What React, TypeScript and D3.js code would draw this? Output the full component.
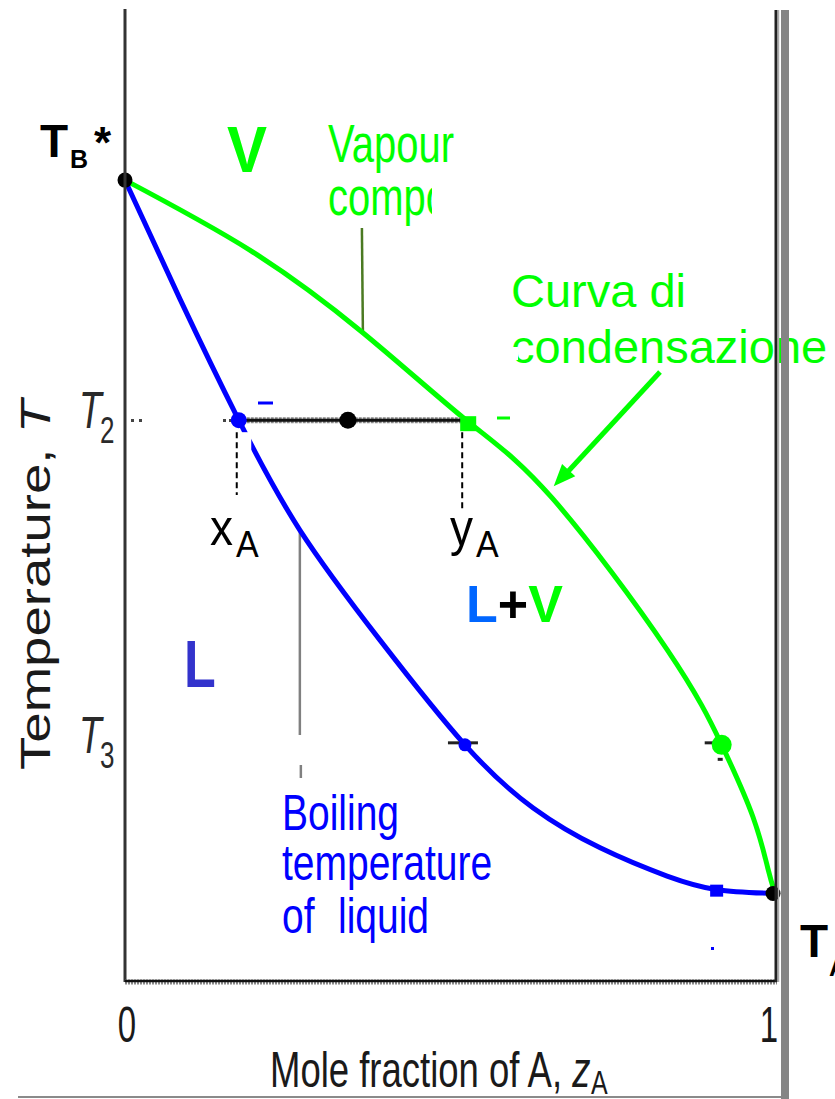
import React from 'react';
import * as d3 from 'd3';

const W = 835;
const H = 1099;
const FONT = '"Liberation Sans", Arial, Helvetica, sans-serif';

// Boiling (liquid) curve: mole fraction of A vs temperature (arbitrary units)
const liquidX = [0, 0.085, 0.175, 0.269, 0.392, 0.523, 0.628, 0.731, 0.834, 0.911, 1];
const liquidT = [82.5, 70.2, 57.8, 46.5, 35.2, 24.4, 17.9, 13.8, 10.9, 9.5, 9.1];

// Condensation (vapour) curve
const vapourX = [0, 0.192, 0.366, 0.525, 0.657, 0.834, 0.918, 0.966, 0.989, 1];
const vapourT = [82.5, 75.3, 66.8, 57.8, 49.8, 34.2, 24.4, 17.0, 11.7, 9.1];

// Pure-component boiling points and the two marked temperatures
const TB = 82.5;
const TA = 9.1;
const T2 = 57.8;
const T3 = 24.4;

// Compositions on the T2 tie line and at T3
const xA2 = 0.175;
const yA2 = 0.528;
const zA = 0.343;
const xA3 = 0.523;
const yA3 = 0.918;
const xLow = 0.911;
const TLow = 9.5;

const xTickValues = [0, 1];
const xTickLabels = ['0', '1'];
const tempTickValues = [T2, T3];
const tempTickSubs = ['2', '3'];

const x = d3.scaleLinear().domain([0, 1]).range([125, 775]);
const y = d3.scaleLinear().domain([0, 100]).range([982, 10]);

const line = d3
  .line<[number, number]>()
  .x((d) => x(d[0]))
  .y((d) => y(d[1]))
  .curve(d3.curveNatural);

const liquidPath = line(liquidX.map((v, i) => [v, liquidT[i]]) as [number, number][]) || '';
const vapourPath = line(vapourX.map((v, i) => [v, vapourT[i]]) as [number, number][]) || '';

const BLUE = '#0000ff';
const GREEN = '#00ff00';

type STProps = {
  x: number;
  y: number;
  s?: number;
  size: number;
  children?: React.ReactNode;
  [k: string]: any;
};

// Text with an independent vertical stretch
const ST = ({ x: tx, y: ty, s = 1, size, children, ...rest }: STProps) => (
  <text
    transform={`translate(${tx},${ty}) scale(1,${s})`}
    fontSize={size}
    fontFamily={FONT}
    {...rest}
  >
    {children}
  </text>
);

function arrowHead(x0: number, y0: number, x1: number, y1: number, len: number, half: number) {
  const dx = x1 - x0;
  const dy = y1 - y0;
  const n = Math.hypot(dx, dy);
  const ux = dx / n;
  const uy = dy / n;
  const bx = x1 - ux * len;
  const by = y1 - uy * len;
  const px = -uy;
  const py = ux;
  return `M${x1},${y1}L${bx + px * half},${by + py * half}L${bx - px * half},${by - py * half}Z`;
}

export default function App() {
  const x0 = x(0);
  const x1 = x(1);
  const yTop = y(100);
  const yBot = y(0);

  const arrowStart: [number, number] = [660, 372];
  const arrowTip: [number, number] = [x(0.658) + 1, y(51)];

  return (
    <svg
      width={W}
      height={H}
      viewBox={`0 0 ${W} ${H}`}
      style={{ position: 'absolute', left: 0, top: 0, display: 'block', background: '#fff' }}
    >
      <defs>
        <clipPath id="vapourClip">
          <rect x={300} y={170} width={132} height={70} />
        </clipPath>
      </defs>
      <rect x={0} y={0} width={W} height={H} fill="#fff" />

      {/* region labels */}
      <ST x={227} y={172} s={1.07} size={60} fontWeight="bold" fill={GREEN}>V</ST>
      <ST x={184} y={687} s={1.27} size={52} fontWeight="bold" fill="#3333cc">L</ST>
      <ST x={466} y={622} size={52} fontWeight="bold">
        <tspan fill="#0066ff">L</tspan>
        <tspan fill="#000">+</tspan>
        <tspan fill={GREEN}>V</tspan>
      </ST>

      {/* vapour composition note */}
      <ST x={328} y={162} s={1.33} size={40} fill={GREEN}>Vapour</ST>
      <g clipPath="url(#vapourClip)">
        <ST x={328} y={215} s={1.33} size={40} fill={GREEN}>composition</ST>
      </g>
      <line x1={x(0.366) - 1} y1={228} x2={x(0.366)} y2={y(66.8)} stroke="#4b7a22" strokeWidth={2.5} />

      {/* boiling temperature note */}
      <ST x={282} y={830} s={1.3} size={39} fill={BLUE}>Boiling</ST>
      <ST x={282} y={880} s={1.3} size={39} fill={BLUE}>temperature</ST>
      <ST x={282} y={933} s={1.3} size={39} fill={BLUE}>of</ST>
      <ST x={338} y={933} s={1.3} size={39} fill={BLUE}>liquid</ST>
      <line x1={x(0.269)} y1={y(46.5)} x2={x(0.269)} y2={735} stroke="#808080" strokeWidth={2.5} />
      <line x1={x(0.269) + 1} y1={765} x2={x(0.269) + 1} y2={778} stroke="#808080" strokeWidth={2.5} />

      {/* condensation curve note */}
      <ST x={511} y={307} size={47} fill={GREEN}>Curva di</ST>
      <ST x={511} y={363} size={47} fill={GREEN}>condensazione</ST>
      <rect x={508} y={347} width={10} height={13} fill="#fff" />
      <line
        x1={arrowStart[0]}
        y1={arrowStart[1]}
        x2={arrowTip[0] + 9}
        y2={arrowTip[1] - 9}
        stroke={GREEN}
        strokeWidth={5}
      />
      <path d={arrowHead(arrowStart[0], arrowStart[1], arrowTip[0], arrowTip[1], 22, 9)} fill={GREEN} />

      {/* phase boundaries */}
      <path d={vapourPath} fill="none" stroke={GREEN} strokeWidth={5} strokeLinejoin="round" />
      <path d={liquidPath} fill="none" stroke={BLUE} strokeWidth={5} strokeLinejoin="round" />

      {/* erased patch next to the liquid end of the tie line */}
      <rect x={x(xA2) + 0.5} y={y(T2) + 12} width={12} height={28} fill="#fff" />

      {/* tie line at T2 */}
      <line x1={x(xA2)} y1={y(T2)} x2={x(yA2) - 5} y2={y(T2)} stroke="#888" strokeWidth={6} strokeDasharray="3 1" />
      <line x1={x(xA2)} y1={y(T2)} x2={x(yA2) - 5} y2={y(T2)} stroke="#111" strokeWidth={3} />

      {/* composition drop lines */}
      <line x1={x(xA2) - 2} y1={y(T2) + 12} x2={x(xA2) - 2} y2={495} stroke="#000" strokeWidth={2} strokeDasharray="6 4" />
      <line x1={x(yA2) - 6} y1={y(T2) + 12} x2={x(yA2) - 6} y2={510} stroke="#000" strokeWidth={2} strokeDasharray="6 4" />

      {/* small leftover marks */}
      <line x1={258} y1={403} x2={273} y2={403} stroke={BLUE} strokeWidth={3} />
      <line x1={497} y1={418} x2={510} y2={418} stroke={GREEN} strokeWidth={3} />
      <rect x={223} y={419} width={3} height={3} fill="#444" />
      <rect x={229} y={419} width={3} height={3} fill="#444" />
      <rect x={131} y={419} width={3} height={3} fill="#444" />
      <rect x={139} y={419} width={3} height={3} fill="#444" />
      <line x1={x(xA3) - 17} y1={y(T3) - 2} x2={x(xA3) + 13} y2={y(T3) - 2} stroke="#222" strokeWidth={3} />
      <line x1={x(yA3) - 17} y1={y(T3) - 2} x2={x(yA3) - 8} y2={y(T3) - 2} stroke="#222" strokeWidth={3} />
      <rect x={x(yA3) - 4} y={y(T3) + 13} width={5} height={3} fill="#222" />
      <rect x={711} y={947} width={3} height={3} fill={BLUE} />

      {/* points */}
      <circle cx={x(xA2)} cy={y(T2)} r={8} fill={BLUE} />
      <circle cx={x(zA)} cy={y(T2)} r={8.5} fill="#000" />
      <rect x={x(yA2) - 8} y={y(T2) - 4} width={16} height={15} fill={GREEN} />
      <circle cx={x(xA3)} cy={y(T3)} r={6.5} fill={BLUE} />
      <circle cx={x(yA3)} cy={y(T3)} r={10} fill={GREEN} />
      <rect x={x(xLow) - 7} y={y(TLow) - 5} width={13} height={12} fill={BLUE} />
      <circle cx={x(0)} cy={y(TB)} r={7.5} fill="#000" />
      <circle cx={x(1) - 2} cy={y(TA)} r={7.5} fill="#000" />

      {/* x_A and y_A */}
      <ST x={210} y={545} s={1.12} size={46} fill="#000">x</ST>
      <ST x={236} y={557} s={1.1} size={34} fill="#000">A</ST>
      <ST x={450} y={545} s={1.12} size={46} fill="#000">y</ST>
      <ST x={476} y={557} s={1.1} size={34} fill="#000">A</ST>

      {/* pure-component labels */}
      <ST x={40} y={157} size={46} fontWeight="bold" fill="#000">T</ST>
      <ST x={70} y={168} size={25} fontWeight="bold" fill="#000">B</ST>
      <ST x={94} y={158} size={44} fontWeight="bold" fill="#000">*</ST>
      <ST x={800} y={957} size={46} fontWeight="bold" fill="#000">T</ST>
      <ST x={829} y={976} size={25} fontWeight="bold" fill="#000">A</ST>

      {/* frame */}
      <line x1={x0} y1={yTop - 1} x2={x0} y2={yBot} stroke="#333" strokeWidth={3} />
      <line x1={x0} y1={yBot} x2={x1 + 2} y2={yBot} stroke="#888" strokeWidth={5} strokeDasharray="2 1" />
      <line x1={x0} y1={yBot - 1} x2={x1 + 2} y2={yBot - 1} stroke="#111" strokeWidth={2.5} />
      <line x1={x1 + 1} y1={yTop} x2={x1 + 1} y2={yBot} stroke="#222" strokeWidth={3} />
      <line x1={x1 + 3.5} y1={yTop} x2={x1 + 3.5} y2={yBot} stroke="#aaa" strokeWidth={1.5} />
      <rect x={x1 + 6} y={yTop} width={8} height={H - yTop} fill="#858585" />
      <line x1={18} y1={1097} x2={x1 + 6} y2={1097} stroke="#8a8a8a" strokeWidth={2} />

      {/* temperature ticks */}
      {tempTickValues.map((t, i) => (
        <g key={i}>
          <ST x={79} y={y(t) + 8} s={1.4} size={37} fontStyle="italic" fill="#2a2a2a">T</ST>
          <ST x={100} y={y(t) + 23} s={1.4} size={26} fill="#2a2a2a">{tempTickSubs[i]}</ST>
        </g>
      ))}

      {/* x tick labels */}
      {xTickValues.map((v, i) => (
        <ST key={i} x={x(v) + (i === 0 ? 2 : -6)} y={1042} s={1.5} size={33} textAnchor="middle" fill="#1a1a1a">
          {xTickLabels[i]}
        </ST>
      ))}

      {/* axis titles */}
      <ST x={270} y={1087} s={1.38} size={36.5} fill="#1a1a1a">
        Mole fraction of A, <tspan fontStyle="italic">z</tspan>
      </ST>
      <ST x={591} y={1094} s={1.3} size={25} fill="#1a1a1a">A</ST>
      <text
        transform="translate(50,770) rotate(-90) scale(1.3,1)"
        fontSize={42}
        fontFamily={FONT}
        fill="#1a1a1a"
      >
        Temperature, <tspan fontStyle="italic">T</tspan>
      </text>
    </svg>
  );
}
